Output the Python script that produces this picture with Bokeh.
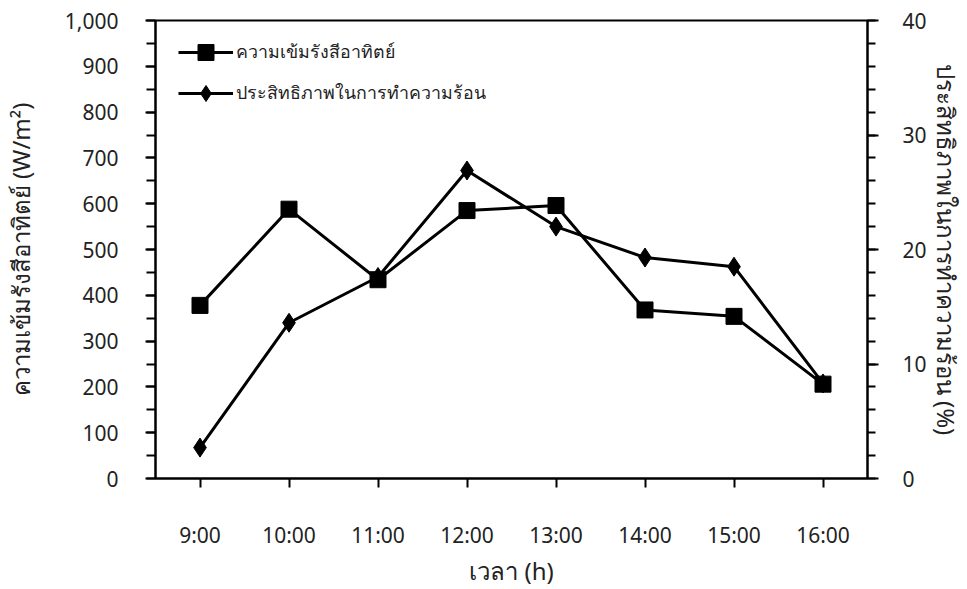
from bokeh.plotting import figure
from bokeh.models import (LinearAxis, Range1d, SingleIntervalTicker, NumeralTickFormatter,
                          Legend, LegendItem, FactorRange)
from bokeh.embed import file_html
from bokeh.resources import INLINE

times = ["9:00", "10:00", "11:00", "12:00", "13:00", "14:00", "15:00", "16:00"]
irradiance = [378, 588, 434, 585, 596, 368, 354, 206]          # W/m2 (left axis)
efficiency = [2.7, 13.6, 17.6, 26.9, 22.0, 19.3, 18.5, 8.3]    # % (right axis)

name_irr = "ความเข้มรังสีอาทิตย์"
name_eff = "ประสิทธิภาพในการทำความร้อน"
ylabel_left = "ความเข้มรังสีอาทิตย์ (W/m²)"
ylabel_right = "ประสิทธิภาพในการทำความร้อน (%)"
xlabel = "เวลา (h)"

FONT = "Noto Sans"
FS = "21px"
TFS = "24px"
COL = "#222222"

W, H = 967, 589
FL, FR, FT, FB = 155, 867, 20, 480
p = figure(width=W, height=H, x_range=FactorRange(*times), y_range=Range1d(0, 1000),
           output_backend="svg", toolbar_location=None,
           min_border_left=FL, min_border_right=W - FR, min_border_top=FT, min_border_bottom=H - FB)
p.extra_y_ranges = {"right": Range1d(0, 40)}

p.grid.visible = False
p.outline_line_color = "black"
p.outline_line_width = 2
p.background_fill_color = "white"
p.border_fill_color = "white"

# left axis
ya = p.yaxis[0]
ya.ticker = SingleIntervalTicker(interval=100, num_minor_ticks=2)
ya.formatter = NumeralTickFormatter(format="0,0")
ya.axis_line_width = 2
ya.major_tick_line_width = 2
ya.minor_tick_line_width = 2
ya.major_tick_in = 0
ya.major_tick_out = 10
ya.minor_tick_in = 0
ya.minor_tick_out = 9
ya.major_label_standoff = 27
ya.major_label_text_font = FONT
ya.major_label_text_font_size = FS
ya.major_label_text_color = COL
ya.axis_label = ylabel_left
ya.axis_label_text_font = FONT
ya.axis_label_text_font_size = TFS
ya.axis_label_text_font_style = "normal"
ya.axis_label_text_color = COL
ya.axis_label_standoff = 25

# right axis
ra = LinearAxis(y_range_name="right", ticker=SingleIntervalTicker(interval=10, num_minor_ticks=5))
ra.axis_line_width = 2
ra.major_tick_line_width = 2
ra.minor_tick_line_width = 2
ra.major_tick_in = 0
ra.major_tick_out = 11
ra.minor_tick_in = 0
ra.minor_tick_out = 8
ra.major_label_standoff = 24
ra.major_label_text_font = FONT
ra.major_label_text_font_size = FS
ra.major_label_text_color = COL
ra.axis_label = ylabel_right
ra.axis_label_text_font = FONT
ra.axis_label_text_font_size = TFS
ra.axis_label_text_font_style = "normal"
ra.axis_label_text_color = COL
ra.axis_label_standoff = 0
p.add_layout(ra, "right")

# x axis
xa = p.xaxis[0]
xa.axis_line_width = 2
xa.major_tick_line_width = 2
xa.major_tick_in = 0
xa.major_tick_out = 9
xa.major_label_standoff = 33
xa.major_label_text_font = FONT
xa.major_label_text_font_size = FS
xa.major_label_text_color = COL
xa.axis_label = xlabel
xa.axis_label_text_font = FONT
xa.axis_label_text_font_size = TFS
xa.axis_label_text_font_style = "normal"
xa.axis_label_text_color = COL
xa.axis_label_standoff = 2

# series
l1 = p.line(times, irradiance, line_color="black", line_width=3)
s1 = p.scatter(times, irradiance, marker="square", size=16, fill_color="black", line_color="black")
l2 = p.line(times, efficiency, line_color="black", line_width=3, y_range_name="right")
s2 = p.scatter(times, efficiency, marker="diamond", size=19, fill_color="black", line_color="black",
               y_range_name="right")

legend = Legend(items=[LegendItem(label=name_irr, renderers=[l1, s1]),
                       LegendItem(label=name_eff, renderers=[l2, s2])],
                location=(23, (FB - FT) - 95), glyph_width=55, glyph_height=40, label_height=20,
                spacing=1, margin=0, padding=8, label_standoff=3,
                border_line_color=None, background_fill_alpha=0,
                label_text_font=FONT, label_text_font_size="17.8px", label_text_color=COL)
p.add_layout(legend)

open("out.html", "w").write(file_html(p, INLINE))
